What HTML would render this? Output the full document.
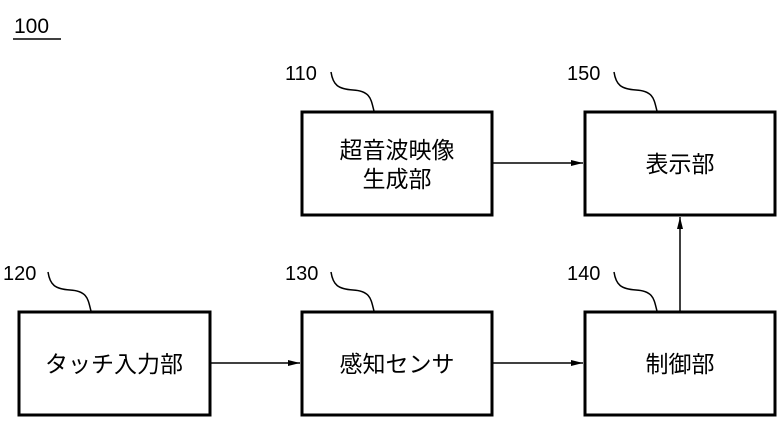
<!DOCTYPE html>
<html><head><meta charset="utf-8"><style>
body{margin:0;background:#fff}
svg{display:block}
text{font-family:"Liberation Sans","Noto Sans CJK JP",sans-serif;fill:#000}
</style></head><body>
<svg width="784" height="426" viewBox="0 0 784 426">
<defs><marker id="a" markerWidth="12" markerHeight="8" refX="12" refY="4" orient="auto" markerUnits="userSpaceOnUse"><path d="M0,1 L12,4 L0,7 Z" fill="#000"/></marker></defs>
<text x="14" y="33" font-size="21">100</text>
<line x1="13" y1="39" x2="61" y2="39" stroke="#000" stroke-width="1.5"/>
<g fill="none" stroke="#000" stroke-width="3">
<rect x="19" y="312" width="191" height="103"/>
<rect x="302" y="312" width="190" height="103"/>
<rect x="302" y="112" width="190" height="103"/>
<rect x="585" y="112" width="190" height="103"/>
<rect x="585" y="312" width="190" height="103"/>
</g>
<g stroke="#000" stroke-width="1.5" fill="none">
<line x1="210" y1="363" x2="300" y2="363" marker-end="url(#a)"/>
<line x1="492" y1="363" x2="583" y2="363" marker-end="url(#a)"/>
<line x1="492" y1="163" x2="583" y2="163" marker-end="url(#a)"/>
<line x1="680" y1="312" x2="680" y2="217" marker-end="url(#a)"/>
<path d="M48,272 C50,285 55,289 70,290 C88,291 88,300 91,311"/>
<path d="M331,272 C333,285 338,289 353,290 C371,291 371,300 374,311"/>
<path d="M331,72 C333,85 338,89 353,90 C371,91 371,100 374,111"/>
<path d="M614,72 C616,85 621,89 636,90 C654,91 654,100 657,111"/>
<path d="M614,272 C616,285 621,289 636,290 C654,291 654,300 657,311"/>
</g>
<g font-size="20">
<text x="3" y="280">120</text>
<text x="285" y="80">110</text>
<text x="285" y="280">130</text>
<text x="567" y="80">150</text>
<text x="567" y="280">140</text>
</g>
<g font-size="23" text-anchor="middle">
<text x="114" y="372">タッチ入力部</text>
<text x="397" y="372">感知センサ</text>
<text x="397" y="158">超音波映像</text>
<text x="397" y="187">生成部</text>
<text x="680" y="172">表示部</text>
<text x="680" y="372">制御部</text>
</g>
</svg>
</body></html>
